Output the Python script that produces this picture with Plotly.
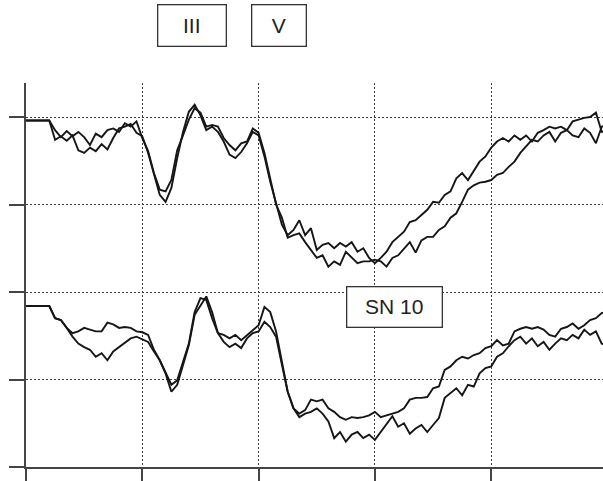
import plotly.graph_objects as go

# Sampling grid (time, arbitrary units; gridlines every 100)
t = list(range(0, 505, 5))

# Upper pair of recordings
upper_III = [3.96, 3.96, 3.96, 3.96, 3.96,
             3.74, 3.78, 3.73, 3.79, 3.62,
             3.59, 3.65, 3.61, 3.69, 3.63,
             3.76, 3.87, 3.89, 3.92, 3.82,
             3.78, 3.59, 3.34, 3.11, 3.03,
             3.19, 3.53, 3.83, 4.06, 4.14,
             4.02, 3.85, 3.89, 3.83, 3.72,
             3.57, 3.53, 3.60, 3.70, 3.83,
             3.79, 3.55, 3.26, 3.03, 2.77,
             2.65, 2.71, 2.82, 2.65, 2.73,
             2.48, 2.54, 2.56, 2.50, 2.56,
             2.52, 2.57, 2.46, 2.50, 2.39,
             2.33, 2.39, 2.46, 2.57, 2.63,
             2.69, 2.80, 2.82, 2.88, 2.94,
             3.03, 3.02, 3.11, 3.15, 3.30,
             3.36, 3.28, 3.39, 3.49, 3.55,
             3.65, 3.72, 3.76, 3.72, 3.79,
             3.74, 3.79, 3.72, 3.82, 3.85,
             3.89, 3.87, 3.89, 3.85, 3.95,
             3.97, 3.99, 4.00, 4.05, 3.83,
             3.85]

upper_V = [3.96, 3.96, 3.96, 3.96, 3.96,
           3.85, 3.77, 3.84, 3.78, 3.83,
           3.77, 3.68, 3.81, 3.77, 3.85,
           3.87, 3.83, 3.93, 3.89, 3.95,
           3.76, 3.61, 3.36, 3.17, 3.15,
           3.28, 3.62, 3.79, 3.97, 4.10,
           4.05, 3.89, 3.91, 3.89, 3.76,
           3.68, 3.62, 3.70, 3.72, 3.87,
           3.82, 3.59, 3.30, 3.00, 2.85,
           2.62, 2.65, 2.67, 2.57, 2.48,
           2.39, 2.42, 2.29, 2.35, 2.31,
           2.46, 2.39, 2.33, 2.35, 2.35,
           2.37, 2.35, 2.29, 2.39, 2.42,
           2.50, 2.57, 2.45, 2.59, 2.63,
           2.63, 2.71, 2.75, 2.85, 2.90,
           3.03, 3.17, 3.22, 3.25, 3.26,
           3.28, 3.34, 3.36, 3.43, 3.49,
           3.59, 3.66, 3.74, 3.72, 3.79,
           3.83, 3.72, 3.82, 3.85, 3.79,
           3.77, 3.87, 3.82, 3.70, 3.89,
           3.91]

# Lower pair of recordings (SN 10)
lower_III = [1.84, 1.84, 1.84, 1.84, 1.84,
             1.70, 1.68, 1.59, 1.53, 1.55,
             1.59, 1.57, 1.55, 1.55, 1.65,
             1.63, 1.59, 1.60, 1.59, 1.55,
             1.54, 1.51, 1.34, 1.22, 1.07,
             0.94, 0.99, 1.20, 1.41, 1.77,
             1.93, 1.91, 1.70, 1.53, 1.51,
             1.47, 1.51, 1.45, 1.51, 1.57,
             1.62, 1.83, 1.77, 1.55, 1.20,
             0.86, 0.67, 0.61, 0.65, 0.77,
             0.75, 0.77, 0.67, 0.63, 0.57,
             0.54, 0.57, 0.56, 0.57, 0.59,
             0.63, 0.57, 0.59, 0.61, 0.63,
             0.67, 0.77, 0.79, 0.79, 0.80,
             0.90, 0.92, 1.11, 1.15, 1.22,
             1.26, 1.24, 1.28, 1.30, 1.36,
             1.38, 1.45, 1.39, 1.41, 1.55,
             1.58, 1.60, 1.58, 1.60, 1.57,
             1.51, 1.49, 1.58, 1.60, 1.64,
             1.58, 1.62, 1.68, 1.70, 1.76,
             1.78]

lower_V = [1.84, 1.84, 1.84, 1.84, 1.84,
           1.70, 1.68, 1.59, 1.49, 1.41,
           1.37, 1.34, 1.26, 1.30, 1.22,
           1.32, 1.37, 1.43, 1.47, 1.49,
           1.46, 1.43, 1.32, 1.22, 1.07,
           0.86, 0.94, 1.17, 1.39, 1.74,
           1.85, 1.95, 1.77, 1.53, 1.43,
           1.37, 1.41, 1.36, 1.47, 1.53,
           1.55, 1.66, 1.60, 1.49, 1.17,
           0.86, 0.67, 0.57, 0.61, 0.63,
           0.67, 0.61, 0.52, 0.33, 0.40,
           0.29, 0.37, 0.40, 0.33, 0.37,
           0.31, 0.40, 0.48, 0.58, 0.46,
           0.50, 0.38, 0.44, 0.48, 0.40,
           0.48, 0.56, 0.79, 0.84, 0.90,
           0.82, 0.94, 0.92, 1.07, 1.13,
           1.15, 1.26, 1.30, 1.38, 1.45,
           1.49, 1.41, 1.47, 1.38, 1.43,
           1.34, 1.41, 1.47, 1.45, 1.51,
           1.47, 1.57, 1.51, 1.55, 1.41,
           1.39]

x_ticks = [0, 100, 200, 300, 400]
y_ticks = [0, 1, 2, 3, 4]
box_labels = ["III", "V", "SN 10"]

LINE = "#161616"
AXIS = "#454545"
GRID = "#3c3c3c"

fig = go.Figure()
for name, ys in [("III", upper_III), ("V", upper_V),
                 ("III", lower_III), ("V", lower_V)]:
    fig.add_trace(go.Scatter(x=t, y=ys, mode="lines", name=name,
                             line=dict(color=LINE, width=1.9),
                             showlegend=False, hoverinfo="skip"))

axis_common = dict(showline=True, linecolor=AXIS, linewidth=1.5,
                   ticks="outside", ticklen=15, tickwidth=1.5, tickcolor=AXIS,
                   showticklabels=False, showgrid=True, gridcolor=GRID,
                   gridwidth=1.2, griddash="2px,2px", zeroline=False, mirror=False)

fig.update_xaxes(range=[0, 496.1], tickvals=x_ticks, **axis_common)
fig.update_yaxes(range=[0, 4.389], tickvals=y_ticks, **axis_common)

font = dict(family="Liberation Sans, Arial, sans-serif", size=21, color="#222222")
box_style = dict(xref="paper", yref="paper", showarrow=False, font=font,
                 bordercolor="#333333", borderwidth=1.3, borderpad=0,
                 bgcolor="white", xanchor="center", yanchor="middle")
fig.add_annotation(text=box_labels[0], x=0.2875, y=1.1497, width=67, height=40, **box_style)
fig.add_annotation(text=box_labels[1], x=0.439, y=1.1497, width=53, height=40, **box_style)
fig.add_annotation(text=box_labels[2], x=0.6386, y=0.4167, width=94, height=39, **box_style)

fig.update_layout(width=603, height=481,
                  margin=dict(l=26, r=0, t=83, b=14),
                  plot_bgcolor="white", paper_bgcolor="white")

fig.write_html("out.html")
